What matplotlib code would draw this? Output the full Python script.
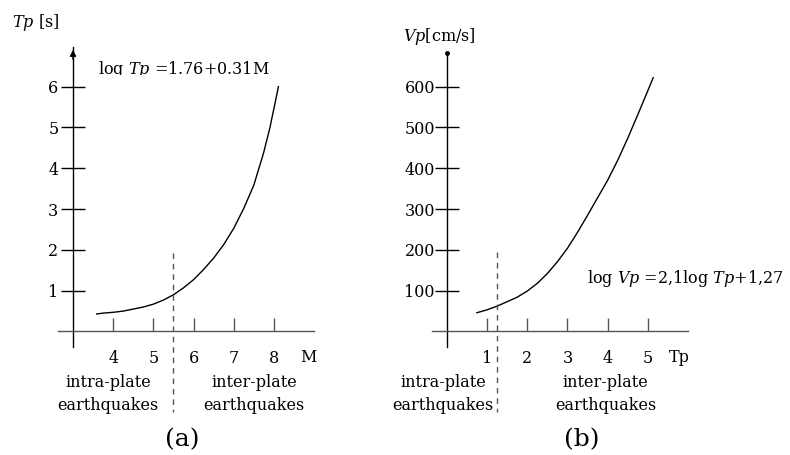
import matplotlib
matplotlib.use('Agg')
import matplotlib.pyplot as plt
from matplotlib.transforms import Bbox, TransformedBbox

plt.rcParams['font.family'] = 'DejaVu Serif'
plt.rcParams['mathtext.fontset'] = 'dejavuserif'
plt.rcParams['font.size'] = 11.5

# (a) Tp vs magnitude
mag = [3.59, 3.75, 4.0, 4.25, 4.5, 4.75, 5.0, 5.25, 5.5, 5.75, 6.0, 6.25,
       6.5, 6.75, 7.0, 7.25, 7.5, 7.6, 7.7, 7.75, 7.8, 7.85, 7.9, 7.95,
       8.0, 8.05, 8.11]
tp_a = [0.43, 0.45, 0.47, 0.50, 0.55, 0.60, 0.67, 0.77, 0.90, 1.07, 1.27, 1.52,
        1.80, 2.13, 2.53, 3.02, 3.59, 3.92, 4.24, 4.41, 4.61, 4.80, 5.0, 5.24,
        5.47, 5.71, 6.0]
m_ticks = [4, 5, 6, 7, 8]
tp_ticks_a = [1, 2, 3, 4, 5, 6]
split_m = 5.5

# (b) Vp vs Tp
tp_b = [0.75, 1.0, 1.25, 1.5, 1.75, 2.0, 2.25, 2.5, 2.75, 3.0, 3.25, 3.5,
        3.75, 4.0, 4.25, 4.5, 4.75, 5.0, 5.13]
vp_b = [46, 53, 62, 73, 84, 99, 118, 142, 171, 204, 243, 285,
        328, 371, 420, 474, 532, 591, 622]
tp_ticks_b = [1, 2, 3, 4, 5]
vp_ticks = [100, 200, 300, 400, 500, 600]
split_tp = 1.25

W, H = 790, 455
fig = plt.figure(figsize=(W / 100, H / 100), dpi=100)


def px_axes(l, r, t, b):
    ax = fig.add_axes([l / W, 1 - b / H, (r - l) / W, (b - t) / H])
    ax.patch.set_visible(False)
    return ax


def style(ax, x0, xticks, yticks):
    ax.spines['top'].set_visible(False)
    ax.spines['right'].set_visible(False)
    ax.spines['left'].set_position(('data', x0))
    ax.spines['bottom'].set_position(('data', 0))
    ax.spines['left'].set_linewidth(1.0)
    ax.spines['bottom'].set_linewidth(1.0)
    ax.spines['bottom'].set_color('#555555')
    ax.set_xticks(xticks)
    ax.set_yticks(yticks)
    ax.tick_params(axis='y', direction='inout', length=17, width=1.0, pad=2)
    ax.tick_params(axis='x', direction='in', length=9.5, width=1.0, pad=13.5,
                   color='#555555')


# ---- panel (a)
axa = px_axes(58, 314, 47, 347)
axa.set_xlim(2.627, 8.995)
axa.set_ylim(-0.38, 6.97)
style(axa, 3, m_ticks, tp_ticks_a)
axa.plot(mag, tp_a, color='black', lw=1.0)
axa.plot([split_m, split_m], [1.93, -1.97], color='#555555', lw=1.0,
         ls=(0, (4, 3.5)), clip_on=False)
axa.annotate('', xy=(3, 6.97), xytext=(3, 6.6),
             arrowprops=dict(arrowstyle='-|>', mutation_scale=9, lw=1.0,
                             color='black'), annotation_clip=False)
axa.text(8.85, -0.64, 'M', ha='center', va='center', clip_on=False)
axa.text(3.87, -1.24, 'intra-plate', ha='center', va='center')
axa.text(3.87, -1.81, 'earthquakes', ha='center', va='center')
axa.text(7.5, -1.24, 'inter-plate', ha='center', va='center')
axa.text(7.5, -1.81, 'earthquakes', ha='center', va='center')
axa.text(5.71, -2.66, '(a)', ha='center', va='center', fontsize=18)
axa.text(1.48, 7.56, r'$Tp$ [s]', ha='left', va='center', clip_on=False)
eq_a = axa.text(3.62, 6.31, r'log $Tp$ =1.76+0.31M', ha='left',
                va='baseline', clip_on=True)
eq_a.set_clip_box(TransformedBbox(Bbox([[3.5, 6.28], [9.5, 7.5]]),
                                  axa.transData))

# ---- panel (b)
axb = px_axes(432, 688, 53, 347)
axb.set_xlim(-0.365, 5.995)
axb.set_ylim(-38, 682.6)
style(axb, 0, tp_ticks_b, vp_ticks)
axb.tick_params(axis='y', pad=0)
axb.plot(tp_b, vp_b, color='black', lw=1.0)
axb.plot([split_tp, split_tp], [195, -197], color='#555555', lw=1.0,
         ls=(0, (4, 3.5)), clip_on=False)
axb.plot([0], [682.6], marker='o', ms=2.5, color='black', clip_on=False)
axb.text(5.78, -64, 'Tp', ha='center', va='center', clip_on=False)
axb.text(-0.09, -124, 'intra-plate', ha='center', va='center')
axb.text(-0.09, -181, 'earthquakes', ha='center', va='center')
axb.text(3.95, -124, 'inter-plate', ha='center', va='center')
axb.text(3.95, -181, 'earthquakes', ha='center', va='center')
axb.text(3.36, -266, '(b)', ha='center', va='center', fontsize=18)
axb.text(-1.09, 722, r'$Vp$[cm/s]', ha='left', va='center', clip_on=False)
axb.text(3.49, 119, r'log $Vp$ =2,1log $Tp$+1,27', ha='left',
         va='baseline', clip_on=False)

fig.savefig('out.png', dpi=100)
